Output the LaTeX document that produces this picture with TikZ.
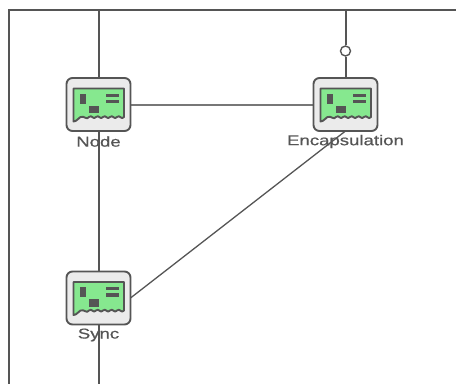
\documentclass[tikz,border=0pt]{standalone}
\usepackage{fontspec}
\usepackage{graphicx}
\setmainfont[FakeBold=0.6]{Liberation Sans}
\usetikzlibrary{backgrounds}
\definecolor{ink}{HTML}{555555}
\definecolor{boxfill}{HTML}{EBEBEB}
\definecolor{cardgreen}{HTML}{86E88F}
\tikzset{
  box/.style={draw=ink,fill=boxfill,line width=1.9pt,rounded corners=6pt,minimum width=64pt,minimum height=53pt,inner sep=0pt,outer sep=0pt},
  lbl/.style={text=ink,inner sep=0pt,font=\fontsize{14.3}{14.3}\selectfont},
  conn/.style={draw=ink,line width=1.3pt},
  vconn/.style={draw=ink,line width=2pt,xshift=-0.6pt},
  hconn/.style={draw=ink!80,line width=2pt,yshift=0.6pt},
  pin/.style={circle,draw=ink,fill=white,line width=1.4pt,minimum size=10pt,inner sep=0pt},
  cardline/.style={draw=ink,line width=1.9pt,fill=cardgreen,line join=round},
  cardmark/.style={fill=ink,draw=none},
}
\newcommand{\cardat}[1]{%
  \begin{scope}[shift={(#1)}]
    \path[cardline] (-25,-16) -- (25.5,-16) -- (25.5,12.5)
      .. controls (23,16) and (21,9.5) .. (18.5,12.5)
      .. controls (16,16) and (14,9.5) .. (11.5,12.5)
      .. controls (9,16) and (7,9.5) .. (4.5,12.5)
      .. controls (2,16) and (0,9.5) .. (-2.5,12.5)
      .. controls (-5,16) and (-7,9.5) .. (-9.5,12.5)
      .. controls (-12,16) and (-14,11) .. (-18,12.5)
      .. controls (-20,13.5) and (-22,17) .. (-25,17) -- cycle;
    \fill[cardmark] (-18.8,-10.8) rectangle (-12.8,-0.8);
    \fill[cardmark] (7.2,-11) rectangle (20.5,-7.8);
    \fill[cardmark] (7.2,-5) rectangle (20.5,-1.5);
    \fill[cardmark] (-9.8,1.2) rectangle (0.8,8.5);
  \end{scope}}
\begin{document}
\begin{tikzpicture}[x=1pt,y=-1pt]
  \useasboundingbox (0,0) rectangle (456,384);
  \coordinate (frameA) at (456,10);
  \coordinate (frameB) at (9,10);
  \coordinate (frameC) at (9,384);
  \coordinate (busTop) at (98.5,10);
  \coordinate (busBot) at (98.5,384);
  \coordinate (encTop) at (345.5,10);
  \node[box] (node) at (98.5,104.5) {};
  \node[box] (enc) at (345.5,104.5) {};
  \node[box] (sync) at (98.5,298) {};
  \cardat{98.5,104.5}
  \cardat{345.5,104.5}
  \cardat{98.5,298}
  \node[pin] (pin) at (345.5,51) {};
  \node[lbl] (nodelbl) at (98.5,141.5) {\scalebox{1.3}[1]{Node}};
  \node[lbl] (enclbl) at (345.5,141.5) {\scalebox{1.3}[1]{Encapsulation}};
  \node[lbl] (synclbl) at (98.5,335) {\scalebox{1.3}[1]{Sync}};
  \begin{scope}[on background layer]
    \draw[conn] (frameA) -- (frameB) -- (frameC);
    \draw[vconn] (busTop) -- (node.north);
    \draw[vconn] (node.south) -- (sync.north);
    \draw[vconn] (sync.south) -- (busBot);
    \draw[hconn] (node.east) -- (enc.west);
    \draw[vconn] (encTop) -- (pin.north);
    \draw[vconn] (pin.south) -- (enc.north);
    \draw[conn] (sync.east) -- (enc.south);
  \end{scope}
\end{tikzpicture}
\end{document}
